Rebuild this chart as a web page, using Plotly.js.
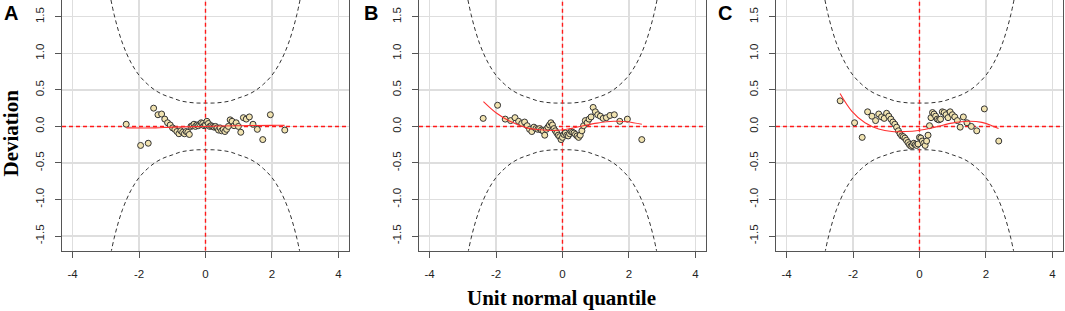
<!DOCTYPE html>
<html>
<head>
<meta charset="utf-8">
<script src="https://cdn.plot.ly/plotly-3.0.1.min.js"></script>
<style>html,body{margin:0;padding:0;background:#fff}#chart{width:1065px;height:311px}</style>
</head>
<body>
<div id="chart"></div>
<script>
// Unit normal quantiles (x positions of the worm points)
var quantiles = [-2.387,-1.953,-1.724,-1.561,-1.430,-1.321,-1.226,-1.141,-1.062,-0.990,-0.923,-0.860,-0.800,-0.743,-0.688,-0.635,-0.584,-0.534,-0.486,-0.439,-0.393,-0.347,-0.302,-0.258,-0.214,-0.171,-0.128,-0.085,-0.042,0,0.042,0.085,0.128,0.171,0.214,0.258,0.302,0.347,0.393,0.439,0.486,0.534,0.584,0.635,0.688,0.743,0.800,0.860,0.923,0.990,1.062,1.141,1.226,1.321,1.430,1.561,1.724,1.953,2.387];

// Deviations
var devA = [0.03,-0.26,-0.23,0.25,0.16,0.17,0.10,0.05,0.02,-0.02,-0.04,-0.07,-0.10,-0.06,-0.08,-0.10,-0.07,-0.08,-0.11,0.00,0.01,0.03,0.00,0.02,0.01,0.03,0.05,0.04,0.01,0.02,0.07,0.04,0.00,0.01,0.00,-0.01,0.00,-0.02,-0.05,-0.02,-0.06,-0.04,-0.07,-0.04,0.00,0.09,0.07,0.01,0.05,0.00,-0.08,0.12,0.10,0.13,0.03,-0.04,-0.18,0.16,-0.05];
var devB = [0.11,0.29,0.10,0.08,0.12,0.07,0.04,0.06,0.01,-0.04,-0.07,-0.01,-0.03,-0.04,-0.03,-0.05,-0.06,-0.12,-0.04,-0.01,0.02,0.05,0.02,-0.03,-0.06,-0.09,-0.12,-0.14,-0.18,-0.15,-0.11,-0.09,-0.12,-0.13,-0.10,-0.07,-0.08,-0.09,-0.11,-0.13,-0.15,-0.12,-0.06,0.01,0.08,0.05,0.10,0.13,0.26,0.20,0.16,0.14,0.11,0.12,0.15,0.16,0.07,0.10,-0.18];
var devC = [0.35,0.05,-0.15,0.20,0.14,0.08,0.17,0.13,0.11,0.18,0.14,0.10,0.06,0.03,-0.01,-0.06,-0.10,-0.13,-0.14,-0.16,-0.19,-0.22,-0.25,-0.27,-0.26,-0.23,-0.25,-0.26,-0.24,-0.15,-0.16,-0.20,-0.23,-0.26,-0.20,-0.12,0.01,0.12,0.19,0.17,0.14,0.10,0.09,0.10,0.20,0.19,0.16,0.12,0.20,0.16,0.13,0.08,-0.01,0.13,0.05,0.00,-0.06,0.24,-0.20];

// Fitted (red) worm curves
var fitXA = [-2.38,-1.5,-1.0,0,1,2,2.38];
var fitYA = [-0.02,-0.02,-0.01,0.0,0.01,0.015,0.015];
var fitXB = [-2.38,-1.98,-1.58,-1.07,-0.67,-0.27,0.03,0.53,1.04,1.54,1.94,2.39];
var fitYB = [0.34,0.18,0.07,-0.02,-0.045,-0.055,-0.045,0.0,0.045,0.07,0.065,0.03];
var fitXC = [-2.39,-2.04,-1.64,-1.23,-0.83,-0.43,-0.03,0.47,0.98,1.48,1.88,2.18,2.38];
var fitYC = [0.45,0.21,0.05,-0.035,-0.07,-0.07,-0.055,-0.01,0.045,0.07,0.055,0.01,-0.03];

// 95% confidence band (dashed black curves)
var bandZ = [-3,-2.75,-2.5,-2.25,-2,-1.75,-1.5,-1.25,-1,-0.75,-0.5,-0.25,0,0.25,0.5,0.75,1,1.25,1.5,1.75,2,2.25,2.5,2.75,3];
var bandUpper = [2.11,1.53,1.14,0.88,0.70,0.58,0.49,0.43,0.39,0.35,0.33,0.32,0.32,0.32,0.33,0.35,0.39,0.43,0.49,0.58,0.70,0.88,1.14,1.53,2.11];
var bandLower = [-2.11,-1.53,-1.14,-0.88,-0.70,-0.58,-0.49,-0.43,-0.39,-0.35,-0.33,-0.32,-0.32,-0.32,-0.33,-0.35,-0.39,-0.43,-0.49,-0.58,-0.70,-0.88,-1.14,-1.53,-2.11];

var xTickVals = [-4,-2,0,2,4];
var xTickText = ['-4','-2','0','2','4'];
var yTickVals = [-1.5,-1,-0.5,0,0.5,1,1.5];
var yTickText = ['-1.5','-1.0','-0.5','0.0','0.5','1.0','1.5'];
var panelLabels = ['A','B','C'];

// axis ranges (also used as the extent of the zero reference lines)
var xRange = [-4.32, 4.32];
var yRange = [-1.70, 1.73];

var panels = [
  {dev: devA, fx: fitXA, fy: fitYA},
  {dev: devB, fx: fitXB, fy: fitYB},
  {dev: devC, fx: fitXC, fy: fitYC}
];
var xDomains = [[0.0582,0.3277],[0.3934,0.6629],[0.7286,0.9981]];
var labelX = [11,371,725];

var traces = [];
var layout = {
  width: 1065, height: 311,
  margin: {l:0, r:0, t:0, b:0},
  paper_bgcolor: '#ffffff', plot_bgcolor: '#ffffff',
  showlegend: false,
  annotations: []
};
var tickFont = {family: 'Liberation Sans, Arial, sans-serif', size: 11.5, color: '#222'};
var refLine = {color:'#ff1a1a', width:1.4, dash:'4px,3px'};

panels.forEach(function(p, k){
  var n = k === 0 ? '' : String(k+1);
  var xa = 'x' + n, ya = 'y' + n;
  layout['xaxis' + n] = {
    domain: xDomains[k], range: xRange, anchor: ya,
    tickmode: 'array', tickvals: xTickVals, ticktext: xTickText,
    ticks: 'outside', ticklen: 6, tickcolor: '#555', tickwidth: 1, ticklabelstandoff: 7,
    showline: true, mirror: true, linecolor: '#555', linewidth: 1,
    showgrid: true, gridcolor: '#dedede', gridwidth: 1.3, zeroline: false,
    tickfont: tickFont, fixedrange: true
  };
  layout['yaxis' + n] = {
    domain: [0.194, 1], range: yRange, anchor: xa,
    tickmode: 'array', tickvals: yTickVals, ticktext: yTickText, tickangle: -90,
    ticks: 'outside', ticklen: 6, tickcolor: '#555', tickwidth: 1, ticklabelstandoff: 6,
    showline: true, mirror: true, linecolor: '#555', linewidth: 1,
    showgrid: true, gridcolor: '#dedede', gridwidth: 1.3, zeroline: false,
    tickfont: tickFont, fixedrange: true
  };
  // band curves
  traces.push({x: bandZ, y: bandUpper, xaxis: xa, yaxis: ya, mode:'lines', type:'scatter',
    line:{color:'#333', width:1, dash:'4px,3px', shape:'spline'}, hoverinfo:'skip'});
  traces.push({x: bandZ, y: bandLower, xaxis: xa, yaxis: ya, mode:'lines', type:'scatter',
    line:{color:'#333', width:1, dash:'4px,3px', shape:'spline'}, hoverinfo:'skip'});
  // zero reference lines
  traces.push({x: xRange, y: [0, 0], xaxis: xa, yaxis: ya, mode:'lines', type:'scatter', line: refLine});
  traces.push({x: [0, 0], y: yRange, xaxis: xa, yaxis: ya, mode:'lines', type:'scatter', line: refLine});
  // points
  traces.push({x: quantiles, y: p.dev, xaxis: xa, yaxis: ya, mode:'markers', type:'scatter',
    marker:{size:6, color:'#f1e3b0', line:{color:'#333', width:1}}});
  // fitted curve
  traces.push({x: p.fx, y: p.fy, xaxis: xa, yaxis: ya, mode:'lines', type:'scatter',
    line:{color:'#ff3030', width:1.1, shape:'spline'}});
  layout.annotations.push({text:'<b>' + panelLabels[k] + '</b>', xref:'paper', yref:'paper',
    x: labelX[k]/1065, y: 1 - 13/311, xanchor:'center', yanchor:'middle', showarrow:false,
    font:{family:'Liberation Sans, Arial, sans-serif', size:20, color:'#000'}});
});

layout.annotations.push({text:'<b>Deviation</b>', xref:'paper', yref:'paper',
  x: 10.5/1065, y: 1 - 133/311, xanchor:'center', yanchor:'middle', textangle:-90, showarrow:false,
  font:{family:'Liberation Serif, Times New Roman, serif', size:21, color:'#000'}});
layout.annotations.push({text:'<b>Unit normal quantile</b>', xref:'paper', yref:'paper',
  x: 561/1065, y: 1 - 298/311, xanchor:'center', yanchor:'middle', showarrow:false,
  font:{family:'Liberation Serif, Times New Roman, serif', size:21, color:'#000'}});

Plotly.newPlot('chart', traces, layout, {displayModeBar:false, staticPlot:true});
</script>
</body>
</html>
